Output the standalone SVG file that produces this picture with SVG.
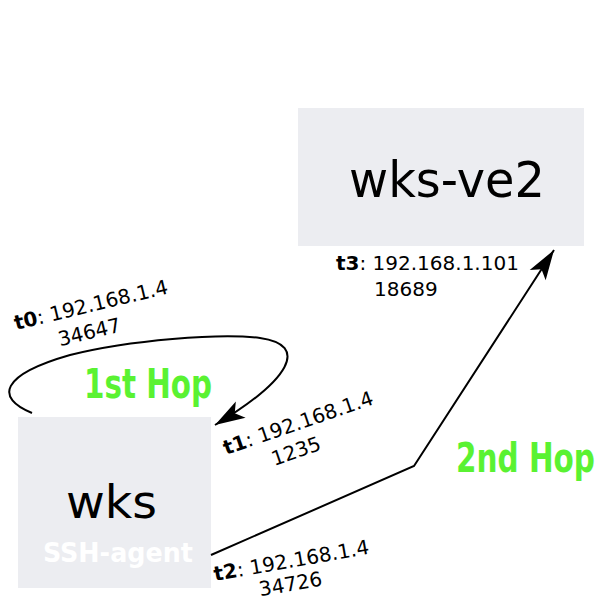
<svg xmlns="http://www.w3.org/2000/svg" width="613" height="613" viewBox="0 0 613 613">
<style>
.box{fill:#ecedf1;stroke:none}
.name{font-family:"DejaVu Sans","Liberation Sans",sans-serif;fill:#000}
.lbl{font-family:"DejaVu Sans","Liberation Sans",sans-serif;font-size:20px;fill:#000}
.lbl .b{font-weight:bold}
.hop{font-family:"DejaVu Sans","Liberation Sans",sans-serif;font-weight:bold;font-stretch:condensed;font-size:40px;fill:#5af232}
.conn{fill:none;stroke:#000;stroke-width:2}
</style>
<defs>
<marker id="arrow" markerUnits="userSpaceOnUse" viewBox="-31 -10 32 20" markerWidth="32" markerHeight="20" refX="0" refY="0" orient="auto" overflow="visible">
<path d="M0,0 L-30,-9.5 L-23,0 L-30,9.5 Z" fill="#000"/>
</marker>
</defs>
<g id="node-wks-ve2">
<rect class="box" x="298" y="108" width="286" height="138"/>
<text class="name" x="349" y="197" font-size="49" textLength="196" lengthAdjust="spacingAndGlyphs">wks-ve2</text>
</g>
<g id="node-wks">
<rect class="box" x="18" y="417" width="193" height="171"/>
<text class="name" x="66" y="518" font-size="47" textLength="91" lengthAdjust="spacingAndGlyphs">wks</text>
<text x="43" y="562" font-family="DejaVu Sans, Liberation Sans, sans-serif" font-weight="bold" font-stretch="condensed" font-size="27" fill="#ffffff" textLength="150" lengthAdjust="spacingAndGlyphs">SSH-agent</text>
</g>
<g id="connectors">
<path class="conn" d="M32,413 C-5,398 0,375 70,355 C130,340 220,333 260,338 C310,345 290,380 215,425" marker-end="url(#arrow)"/>
<path class="conn" d="M211,555 L414,466 L554,250" marker-end="url(#arrow)"/>
</g>
<g id="labels">
<text class="hop" x="84" y="398" textLength="128" lengthAdjust="spacingAndGlyphs">1st Hop</text>
<text class="hop" x="456" y="472" textLength="139" lengthAdjust="spacingAndGlyphs">2nd Hop</text>
<g class="lbl" transform="translate(16,330) rotate(-13.5)">
<text x="0" y="0"><tspan class="b">t0</tspan>: 192.168.1.4</text>
<text x="39" y="26">34647</text>
</g>
<g class="lbl" transform="translate(226,455) rotate(-19)">
<text x="0" y="0"><tspan class="b">t1</tspan>: 192.168.1.4</text>
<text x="42" y="26">1235</text>
</g>
<g class="lbl" transform="translate(215,581) rotate(-10)">
<text x="0" y="0"><tspan class="b">t2</tspan>: 192.168.1.4</text>
<text x="42" y="23">34726</text>
</g>
<g class="lbl" transform="translate(336,270)">
<text x="0" y="0"><tspan class="b">t3</tspan>: 192.168.1.101</text>
<text x="38" y="26">18689</text>
</g>
</g>
</svg>
